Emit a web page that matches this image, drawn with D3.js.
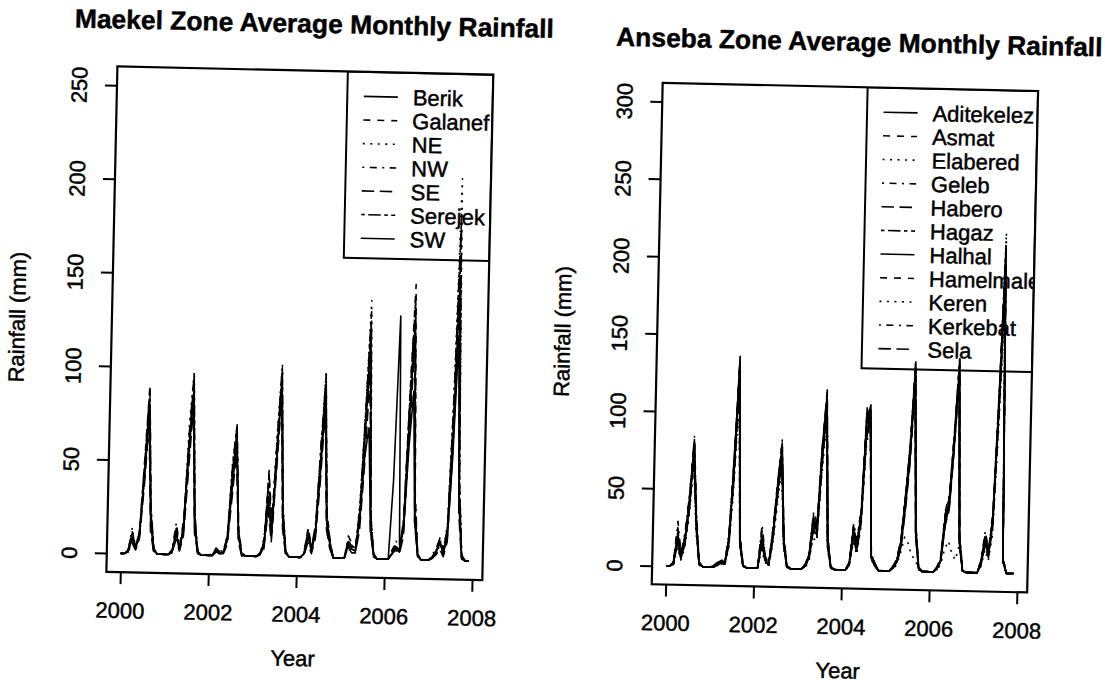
<!DOCTYPE html>
<html><head><meta charset="utf-8">
<script src="https://cdn.jsdelivr.net/npm/d3@7"></script>
<style>
html,body{margin:0;padding:0;background:#fff}
svg{display:block}
text{font-family:"Liberation Sans",Arial,sans-serif;fill:#000;stroke:#000;stroke-width:0.45px}
</style></head>
<body>
<svg id="chart" width="1105" height="684"></svg>
<script>
// ---------------- DATA ----------------
const startYear = 2000;          // first month = Jan 2000, monthly series
const xTicks = [2000, 2002, 2004, 2006, 2008];
const maekelYTicks = [0, 50, 100, 150, 200, 250];
const ansebaYTicks = [0, 50, 100, 150, 200, 250, 300];
const maekelYLim = 250;
const ansebaYLim = 300;

const maekelNames = ["Berik", "Galanef", "NE", "NW", "SE", "Serejek", "SW"];
const ansebaNames = ["Aditekelez", "Asmat", "Elabered", "Geleb", "Habero", "Hagaz",
                     "Halhal", "Hamelmale", "Keren", "Kerkebat", "Sela"];

// Maekel zone, monthly rainfall (mm), Jan 2000 .. Dec 2007
const berik = [
  0,0,1,8,3,12,40,75,18,2,0,0,   0,0,2,12,3,15,55,85,15,1,0,0,
  0,0,3,1,2,8,35,62,12,1,0,0,    0,0,1,5,30,12,50,95,25,3,0,0,
  0,0,2,12,5,15,45,85,20,8,0,0,  0,0,8,5,4,20,55,70,15,2,0,0,
  0,0,42,130,8,15,60,90,20,3,0,0, 0,2,5,10,4,12,55,120,30,2,0,0];
const galanef = [
  0,0,2,12,4,10,50,90,22,3,0,0,  0,0,1,15,2,20,60,95,18,2,0,0,
  0,1,4,2,3,10,45,70,15,2,0,0,   0,0,2,8,46,18,60,100,22,2,0,0,
  0,0,3,16,6,12,50,95,25,10,0,0, 0,0,10,6,5,25,70,110,20,3,0,0,
  0,0,5,8,4,20,90,147,35,4,0,0,  0,1,4,12,6,15,70,160,40,3,0,0];
const ne = [
  0,0,1,14,3,8,40,85,20,2,0,0,   0,0,2,10,4,18,70,98,20,2,0,0,
  0,0,2,3,2,12,50,68,12,1,0,0,   0,0,1,10,35,15,65,103,28,3,0,0,
  0,0,2,10,4,15,55,100,22,6,0,0, 0,0,6,4,6,30,80,138,25,2,0,0,
  0,0,3,6,5,20,85,125,30,3,0,0,  0,2,3,8,5,20,90,204,45,4,0,0];
const nw = [
  0,0,2,10,2,10,45,80,15,1,0,0,  0,0,3,17,5,12,50,90,16,1,0,0,
  0,0,4,2,1,8,40,65,10,2,0,0,    0,0,2,7,40,10,55,92,20,2,0,0,
  0,0,1,14,3,14,60,90,18,9,0,0,  0,0,12,8,4,22,75,125,22,1,0,0,
  0,0,4,10,6,18,80,135,28,2,0,0, 0,3,6,12,3,18,80,170,35,3,0,0];
const se = [
  0,0,1,6,2,8,35,70,12,1,0,0,    0,0,1,8,2,10,45,80,12,1,0,0,
  0,0,2,1,1,6,30,55,8,0,0,0,     0,0,1,4,25,8,45,85,15,1,0,0,
  0,0,1,8,2,10,40,80,15,5,0,0,   0,0,6,3,3,15,50,100,15,1,0,0,
  0,0,3,5,3,12,65,115,20,2,0,0,  0,1,3,6,2,10,60,140,25,1,0,0];
const serejek = [
  0,0,2,11,4,12,48,88,25,3,0,0,  0,0,2,14,3,16,65,96,22,2,0,0,
  0,0,3,2,2,10,48,70,14,1,0,0,   0,0,2,6,44,14,62,101,24,2,0,0,
  0,0,2,15,5,18,58,98,24,8,0,0,  0,0,9,7,5,28,78,132,24,2,0,0,
  0,0,4,7,5,22,88,140,32,3,0,0,  0,1,5,10,5,18,85,185,42,3,0,0];
const sw = [
  0,0,1,9,3,9,42,82,18,2,0,0,    0,0,1,11,3,14,58,88,17,1,0,0,
  0,0,2,1,2,9,42,66,12,1,0,0,    0,0,1,6,32,12,52,96,20,2,0,0,
  0,0,2,11,4,13,52,92,20,7,0,0,  0,0,7,5,4,22,65,120,18,2,0,0,
  0,0,3,6,4,18,75,128,25,2,0,0,  0,1,4,9,4,15,70,150,35,2,0,0];

// Anseba zone, monthly rainfall (mm), Jan 2000 .. Dec 2007
const aditekelez = [
  0,0,2,20,6,18,40,78,30,2,0,0,  0,1,3,4,2,18,65,130,18,1,0,0,
  0,0,20,6,2,22,50,78,18,1,0,0,  0,0,3,8,30,25,75,110,18,1,0,0,
  0,0,5,25,15,35,95,107,8,4,0,0, 0,0,2,6,18,45,75,128,25,2,0,0,
  0,0,2,8,35,45,85,132,20,1,0,0, 0,0,6,22,12,35,110,205,8,0,0,0];
const asmat = [
  0,0,3,25,8,20,45,82,32,3,0,0,  0,0,2,5,3,20,70,135,22,2,0,0,
  0,0,25,8,3,25,55,80,20,2,0,0,  0,0,2,10,35,28,80,113,20,2,0,0,
  0,0,4,28,18,38,105,95,10,5,0,0, 0,0,3,8,20,48,80,132,28,3,0,0,
  0,0,3,10,38,48,88,135,22,2,0,0, 0,0,8,25,14,38,115,210,10,0,0,0];
const elabered = [
  0,0,2,22,7,16,42,80,28,2,0,0,  0,0,3,3,2,16,68,138,20,1,0,0,
  0,0,22,7,2,20,52,76,16,1,0,0,  0,0,2,9,32,24,72,108,16,1,0,0,
  0,0,3,26,16,34,92,104,9,4,0,0, 0,0,2,7,16,44,78,137,30,2,0,0,
  0,0,2,9,34,44,84,139,24,1,0,0, 0,0,7,24,12,34,112,220,9,0,0,0];
const geleb = [
  0,0,3,29,8,22,46,84,35,3,0,0,  0,0,2,4,3,22,72,132,20,2,0,0,
  0,0,28,8,3,26,56,83,22,2,0,0,  0,0,3,10,37,30,78,112,22,2,0,0,
  0,0,4,30,20,40,100,100,10,5,0,0, 0,0,3,8,20,50,82,130,30,3,0,0,
  0,0,3,10,40,50,90,136,25,2,0,0, 0,0,8,27,15,40,118,200,10,0,0,0];
const habero = [
  0,0,1,15,5,14,35,70,25,2,0,0,  0,0,1,3,2,14,55,115,15,1,0,0,
  0,0,15,5,2,18,45,70,15,1,0,0,  0,0,2,6,25,20,65,100,15,1,0,0,
  0,0,3,20,12,30,85,98,8,3,0,0,  0,0,2,5,14,38,68,118,22,2,0,0,
  0,0,2,7,30,40,78,125,18,1,0,0, 0,0,5,18,10,30,100,185,7,0,0,0];
const hagaz = [
  0,0,2,18,6,17,40,76,28,2,0,0,  0,0,2,4,2,17,64,128,18,1,0,0,
  0,0,18,6,2,21,50,75,17,1,0,0,  0,0,2,8,28,24,74,106,17,1,0,0,
  0,0,4,24,14,34,90,102,9,4,0,0, 0,0,2,6,17,44,76,126,26,2,0,0,
  0,0,2,8,33,44,82,130,20,1,0,0, 0,0,6,21,12,34,108,195,8,0,0,0];
const halhal = [
  0,0,2,16,5,15,38,74,26,2,0,0,  0,0,2,3,2,15,60,124,16,1,0,0,
  0,0,16,5,2,19,48,72,16,1,0,0,  0,0,2,7,26,22,70,104,16,1,0,0,
  0,0,3,22,13,32,88,100,8,3,0,0, 0,0,2,6,15,40,72,122,24,2,0,0,
  0,0,2,7,31,42,80,128,19,1,0,0, 0,0,5,19,11,32,104,190,8,0,0,0];
const hamelmale = [
  0,0,3,24,7,19,44,80,31,3,0,0,  0,0,2,4,3,19,67,133,19,2,0,0,
  0,0,24,7,3,24,53,79,19,2,0,0,  0,0,3,9,34,27,77,114,19,2,0,0,
  0,0,4,27,17,37,103,92,10,5,0,0, 0,0,3,7,19,47,79,131,27,3,0,0,
  0,0,3,9,37,47,87,134,21,2,0,0, 0,0,7,23,13,37,114,208,9,0,0,0];
const keren = [
  0,0,1,12,4,12,32,65,22,1,0,0,  0,0,1,2,1,12,50,110,14,1,0,0,
  0,0,12,4,1,15,40,65,13,1,0,0,  0,0,1,5,20,18,60,95,13,1,0,0,
  0,0,2,18,10,28,80,96,7,3,0,0,  0,0,1,4,12,22,18,10,8,1,0,0,
  0,0,1,5,15,20,12,8,18,1,0,0,   0,0,4,15,8,25,90,170,6,0,0,0];
const kerkebat = [
  0,0,2,19,6,16,41,79,29,2,0,0,  0,0,2,4,2,16,66,136,19,1,0,0,
  0,0,19,6,2,22,51,77,18,1,0,0,  0,0,2,8,31,25,76,110,18,1,0,0,
  0,0,4,25,15,35,96,104,9,4,0,0, 0,0,2,7,18,46,78,134,28,2,0,0,
  0,0,2,8,36,46,86,137,22,1,0,0, 0,0,7,22,12,36,112,215,9,0,0,0];
const sela = [
  0,0,2,21,6,18,43,81,30,2,0,0,  0,0,2,4,2,18,69,134,20,1,0,0,
  0,0,21,6,2,23,54,81,19,1,0,0,  0,0,2,9,33,26,79,116,19,1,0,0,
  0,0,4,28,16,36,104,90,9,4,0,0, 0,0,2,7,19,48,81,135,29,2,0,0,
  0,0,2,9,37,48,89,138,23,1,0,0, 0,0,7,24,13,37,116,212,9,0,0,0];

const maekelValues = [berik, galanef, ne, nw, se, serejek, sw];
const ansebaValues = [aditekelez, asmat, elabered, geleb, habero, hagaz,
                      halhal, hamelmale, keren, kerkebat, sela];

// ---------------- STYLE ----------------
// R line types 1..6 (solid, dashed, dotted, dotdash, longdash, twodash), recycled
const ltyDash = [null, "7,7", "2,5.5", "2,5.5,7,5.5", "12.5,5.5", "3.5,3.5,12.5,3.5"];
const FONT = 22;

const svg = d3.select("#chart");
const root = svg.append("g").attr("transform", "rotate(1.25,552,342)");

function drawPanel(cfg, idx) {
  const g = root.append("g");
  const b = cfg.box;
  const n = cfg.values[0].length;
  const t0 = startYear, t1 = startYear + (n - 1) / 12;
  const padX = 0.04 * (t1 - t0);
  const x = d3.scaleLinear().domain([t0 - padX, t1 + padX]).range([b.x0, b.x1]);
  const y = d3.scaleLinear().domain([-0.04 * cfg.ylim, 1.04 * cfg.ylim]).range([b.y1, b.y0]);

  // title
  g.append("text").attr("x", (b.x0 + b.x1) / 2 + 8).attr("y", b.y0 - cfg.titleGap)
    .attr("text-anchor", "middle").attr("font-weight", "bold")
    .attr("font-size", FONT * 1.2).text(cfg.title);

  // x axis
  const xa = g.append("g").attr("transform", `translate(0,${b.y1})`)
    .call(d3.axisBottom(x).tickValues(xTicks).tickSize(12).tickFormat(d3.format("d")));
  xa.select(".domain").remove();
  xa.selectAll(".tick line").attr("stroke", "#000").attr("stroke-width", 2);
  xa.selectAll(".tick text").attr("y", 46).attr("dy", 0).attr("font-size", FONT)
    .attr("font-family", "Liberation Sans, Arial, sans-serif").attr("fill", "#000");

  // y axis
  const ya = g.append("g").attr("transform", `translate(${b.x0},0)`)
    .call(d3.axisLeft(y).tickValues(cfg.yTicks).tickSize(12).tickFormat(d3.format("d")));
  ya.select(".domain").remove();
  ya.selectAll(".tick line").attr("stroke", "#000").attr("stroke-width", 2);
  ya.selectAll(".tick text").attr("transform", "rotate(-90)").attr("x", 0).attr("y", -30)
    .attr("dy", 0).attr("text-anchor", "middle").attr("font-size", FONT)
    .attr("font-family", "Liberation Sans, Arial, sans-serif").attr("fill", "#000");

  // axis titles
  g.append("text").attr("x", (b.x0 + b.x1) / 2).attr("y", b.y1 + 90)
    .attr("text-anchor", "middle").attr("font-size", FONT).text("Year");
  g.append("text")
    .attr("transform", `translate(${b.x0 - 87},${(b.y0 + b.y1) / 2}) rotate(-90)`)
    .attr("text-anchor", "middle").attr("font-size", FONT).text("Rainfall (mm)");

  // clip to plot region
  const clipId = "clip" + idx;
  svg.append("defs").append("clipPath").attr("id", clipId)
    .append("rect").attr("x", b.x0).attr("y", b.y0).attr("width", b.x1 - b.x0).attr("height", b.y1 - b.y0);

  // legend (drawn before the lines, the lines run over it)
  const lg = g.append("g").attr("clip-path", `url(#${clipId})`);
  const lx = b.x1 - cfg.legendWidth;
  const rows = cfg.names.length;
  const step = 23.65, first = 24.5;
  const lh = first + (rows - 1) * step + 20;
  lg.append("rect").attr("x", lx).attr("y", b.y0).attr("width", cfg.legendWidth).attr("height", lh)
    .attr("fill", "#fff").attr("stroke", "#000").attr("stroke-width", 2);
  cfg.names.forEach((nm, i) => {
    const cy = b.y0 + first + i * step;
    lg.append("line").attr("x1", lx + 16.5).attr("x2", lx + 50.5).attr("y1", cy).attr("y2", cy)
      .attr("stroke", "#000").attr("stroke-width", 1.6)
      .attr("stroke-dasharray", ltyDash[i % 6]);
    lg.append("text").attr("x", lx + 65.5).attr("y", cy).attr("dy", "0.36em")
      .attr("font-size", FONT).text(nm);
  });

  // series
  const line = d3.line().x((d, i) => x(startYear + i / 12)).y(d => y(d));
  const lines = g.append("g").attr("clip-path", `url(#${clipId})`);
  cfg.values.forEach((vals, i) => {
    lines.append("path").datum(vals).attr("d", line)
      .attr("fill", "none").attr("stroke", "#000").attr("stroke-width", 1.6)
      .attr("stroke-linejoin", "round")
      .attr("stroke-dasharray", ltyDash[i % 6]);
  });

  // plot box
  g.append("rect").attr("x", b.x0).attr("y", b.y0).attr("width", b.x1 - b.x0).attr("height", b.y1 - b.y0)
    .attr("fill", "none").attr("stroke", "#000").attr("stroke-width", 2.2);
}

drawPanel({
  title: "Maekel Zone Average Monthly Rainfall",
  names: maekelNames, values: maekelValues, yTicks: maekelYTicks, ylim: maekelYLim,
  box: {x0: 111.5, x1: 487.5, y0: 76, y1: 581.5}, legendWidth: 145.5, titleGap: 38
}, 0);

drawPanel({
  title: "Anseba Zone Average Monthly Rainfall",
  names: ansebaNames, values: ansebaValues, yTicks: ansebaYTicks, ylim: ansebaYLim,
  box: {x0: 657, x1: 1032.5, y0: 80.5, y1: 582}, legendWidth: 170.5, titleGap: 36
}, 1);
</script>
</body></html>
